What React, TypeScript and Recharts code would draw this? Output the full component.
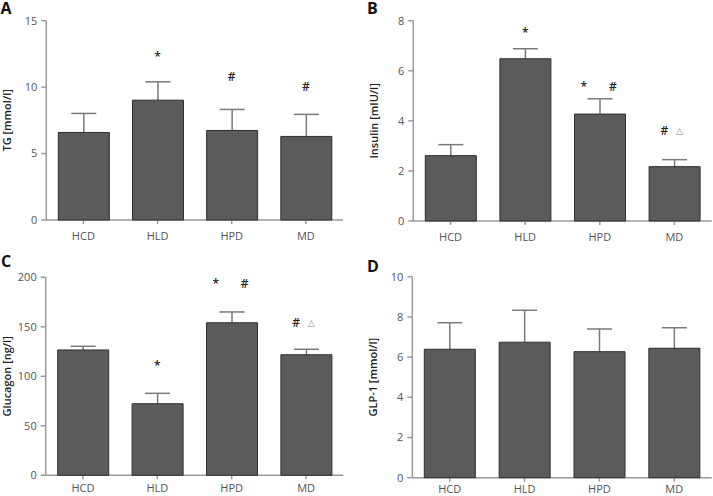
import React from "react";
import {
  ComposedChart,
  Bar,
  ErrorBar,
  Scatter,
  XAxis,
  YAxis,
} from "recharts";

const categories = ["HCD", "HLD", "HPD", "MD"];

// A - TG
const tgMean = [6.59, 9.02, 6.74, 6.29];
const tgErr = [1.43, 1.38, 1.58, 1.66];
const tgMarkY = [null, 12.0, 10.45, 9.72];
const tgMarks = ["", "*", "#", "#"];
const tgTicks = [0, 5, 10, 15];

// B - Insulin
const insMean = [2.61, 6.48, 4.27, 2.17];
const insErr = [0.44, 0.4, 0.61, 0.28];
const insMarkY = [null, 7.35, 5.2, 3.43];
const insMarks = ["", "*", "*#", "#△"];
const insTicks = [0, 2, 4, 6, 8];

// C - Glucagon
const gluMean = [126.6, 72.3, 154.1, 121.8];
const gluErr = [3.7, 10.5, 10.9, 5.5];
const gluMarkY = [null, 105.9, 188.9, 149.8];
const gluMarks = ["", "*", "*#", "#△"];
const gluTicks = [0, 50, 100, 150, 200];

// D - GLP-1
const glpMean = [6.39, 6.74, 6.27, 6.44];
const glpErr = [1.32, 1.59, 1.13, 1.02];
const glpMarkY = [null, null, null, null];
const glpMarks = ["", "", "", ""];
const glpTicks = [0, 2, 4, 6, 8, 10];

const AXIS = "#9a9a9a";
const FONT = "'Open Sans', 'Noto Sans', sans-serif";

function rows(mean: number[], err: number[], markY: (number | null)[], marks: string[]) {
  return categories.map((name, i) => ({
    name,
    mean: mean[i],
    err: err[i],
    markY: markY[i],
    mark: marks[i],
  }));
}

const MarkShape = (props: any) => {
  const { cx, cy, payload } = props;
  if (!payload || !payload.mark || cx == null || cy == null || isNaN(cy)) return <g />;
  const glyphs = Array.from(payload.mark as string);
  let offs = [0];
  if (glyphs.length === 2) offs = glyphs.includes("△") ? [-10, 5] : [-16, 13];
  return (
    <g>
      {glyphs.map((g, k) =>
        g === "△" ? (
          <text key={k} x={cx + offs[k]} y={cy - 1} textAnchor="middle" fontSize={9} fill="#8a8a8a" fontFamily="'DejaVu Sans', sans-serif">
            {g}
          </text>
        ) : (
          <text key={k} x={cx + offs[k]} y={cy} textAnchor="middle" fontSize={12} fontWeight={600} fill="#222" fontFamily={FONT}>
            {g}
          </text>
        )
      )}
    </g>
  );
};

const YLabel = (text: string, dist: number) => (props: any) => {
  const vb = props.viewBox || {};
  const x = vb.x + vb.width - dist;
  const y = vb.y + vb.height / 2;
  return (
    <text x={x} y={y} transform={`rotate(-90 ${x} ${y})`} textAnchor="middle" dominantBaseline="central" fontSize={11} fontWeight={600} fill="#222" fontFamily={FONT}>
      {text}
    </text>
  );
};

interface PanelProps {
  left: number;
  top: number;
  width: number;
  height: number;
  margin: { top: number; right: number; bottom: number; left: number };
  yWidth: number;
  xHeight: number;
  data: any[];
  ticks: number[];
  label: string;
  labelDist: number;
  tickMargin: number;
}

function Panel(p: PanelProps) {
  const max = p.ticks[p.ticks.length - 1];
  return (
    <div style={{ position: "absolute", left: p.left, top: p.top }}>
      <ComposedChart width={p.width} height={p.height} data={p.data} margin={p.margin}>
        <XAxis
          dataKey="name"
          height={p.xHeight}
          stroke={AXIS}
          strokeWidth={1.5}
          tickSize={4}
          tickMargin={p.tickMargin}
          tick={{ fill: "#555", fontSize: 11, fontFamily: FONT }}
        />
        <XAxis xAxisId="top" dataKey="name" orientation="top" height={0} tick={false} tickLine={false} stroke={AXIS} strokeWidth={1.5} />
        <YAxis
          domain={[0, max]}
          ticks={p.ticks}
          width={p.yWidth}
          stroke={AXIS}
          strokeWidth={1.5}
          tickSize={5}
          tickMargin={4}
          interval={0}
          tick={{ fill: "#555", fontSize: 11, fontFamily: FONT }}
          label={YLabel(p.label, p.labelDist)}
        />
        <YAxis yAxisId="right" orientation="right" width={0} tick={false} tickLine={false} stroke={AXIS} strokeWidth={1.5} />
        <Bar dataKey="mean" barSize={51} fill="#5b5b5b" stroke="#2e2e2e" strokeWidth={1} isAnimationActive={false} zIndex={500}>
          <ErrorBar dataKey="err" direction="y" width={12.5} stroke="#7a7a7a" strokeWidth={1.5} zIndex={100} />
        </Bar>
        <Scatter dataKey="markY" shape={MarkShape} isAnimationActive={false} zIndex={600} />
      </ComposedChart>
    </div>
  );
}

export default function App() {
  return (
    <div style={{ position: "absolute", left: 0, top: 0, width: 713, height: 496, background: "#fff", overflow: "hidden" }}>
      <Panel
        left={0}
        top={0}
        width={355}
        height={245}
        margin={{ top: 20.7, right: 12, bottom: 0, left: 0 }}
        yWidth={46.3}
        xHeight={25}
        data={rows(tgMean, tgErr, tgMarkY, tgMarks)}
        ticks={tgTicks}
        label="TG [mmol/l]"
        labelDist={39.5}
        tickMargin={8}
      />
      <Panel
        left={355}
        top={0}
        width={358}
        height={245}
        margin={{ top: 20.7, right: 1.3, bottom: 0, left: 0 }}
        yWidth={58.3}
        xHeight={24}
        data={rows(insMean, insErr, insMarkY, insMarks)}
        ticks={insTicks}
        label="Insulin [mIU/l]"
        labelDist={40}
        tickMargin={8}
      />
      <Panel
        left={0}
        top={245}
        width={355}
        height={251}
        margin={{ top: 32.3, right: 11.7, bottom: 0, left: 0 }}
        yWidth={45.7}
        xHeight={20.7}
        data={rows(gluMean, gluErr, gluMarkY, gluMarks)}
        ticks={gluTicks}
        label="Glucagon [ng/l]"
        labelDist={39}
        tickMargin={5}
      />
      <Panel
        left={355}
        top={245}
        width={358}
        height={251}
        margin={{ top: 31.7, right: 1.3, bottom: 0, left: 0 }}
        yWidth={57.3}
        xHeight={18.3}
        data={rows(glpMean, glpErr, glpMarkY, glpMarks)}
        ticks={glpTicks}
        label="GLP-1 [mmol/l]"
        labelDist={40}
        tickMargin={3}
      />
      <svg width={713} height={496} style={{ position: "absolute", left: 0, top: 0, pointerEvents: "none" }}>
        <g fontFamily={FONT} fontWeight={700} fontSize={16} fill="#111">
          <text x={0.5} y={14}>A</text>
          <text x={367} y={14}>B</text>
          <text x={1} y={266.7}>C</text>
          <text x={367} y={271.7}>D</text>
        </g>
      </svg>
    </div>
  );
}
